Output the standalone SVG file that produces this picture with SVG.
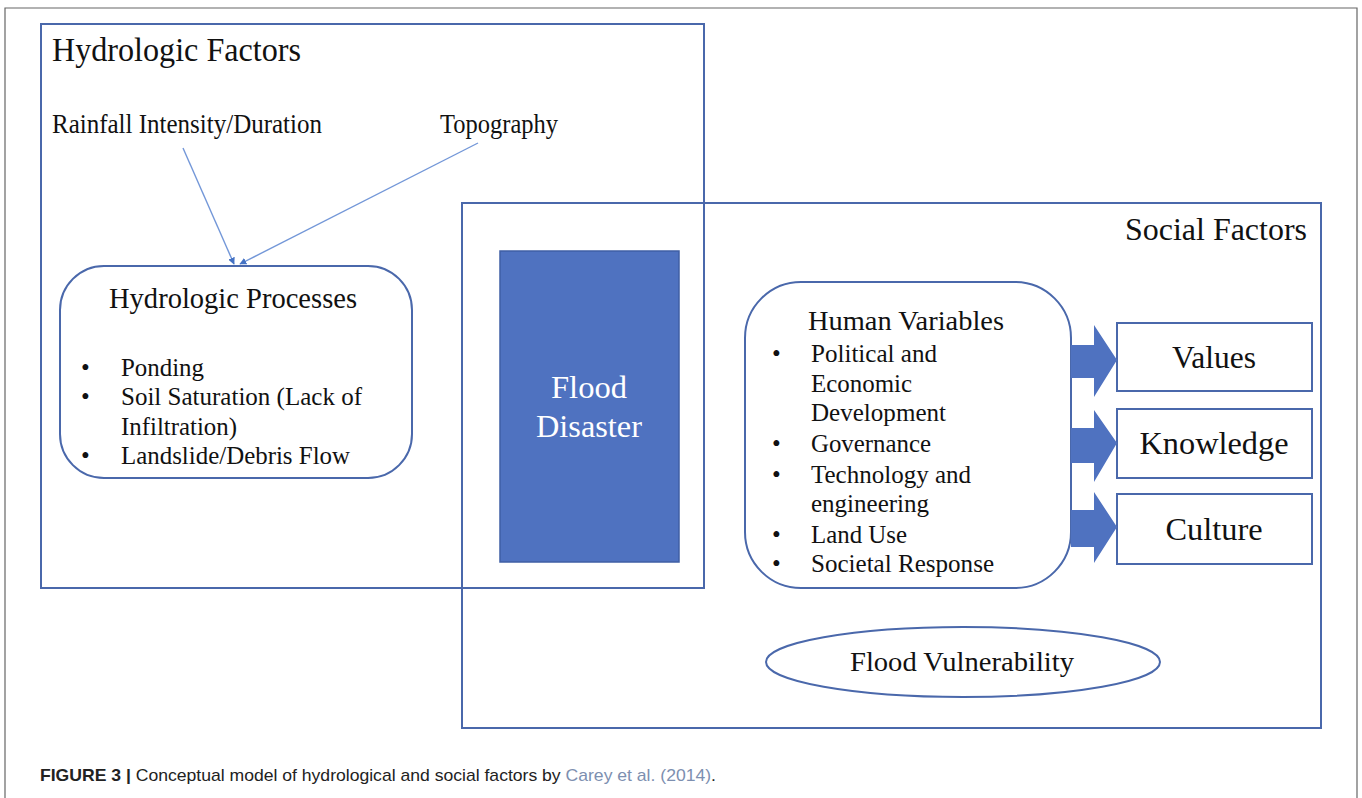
<svg xmlns="http://www.w3.org/2000/svg" width="1362" height="798" viewBox="0 0 1362 798">
<style>
.frame{fill:none;stroke:#666;stroke-width:1.2}
.box{fill:none;stroke:#4a68ab;stroke-width:2}
.wbox{fill:#fff;stroke:#4a68ab;stroke-width:2}
.t{font-family:"Liberation Serif","Times New Roman",serif;fill:#111}
.cap{font-family:"Liberation Sans",Arial,sans-serif;font-size:17px;fill:#222}
.conn{stroke:#7397d8;stroke-width:1.4;fill:none}
.blk{fill:#4f72c0}
</style>
<defs>
<marker id="ah" viewBox="0 0 10 10" refX="9" refY="5" markerWidth="7" markerHeight="7" markerUnits="userSpaceOnUse" orient="auto">
<path d="M0,0 L10,5 L0,10 z" fill="#4472c4"/>
</marker>
</defs>
<rect x="0" y="0" width="1362" height="798" fill="#fff"/>
<path class="frame" d="M5,800 V8 H1357 V800"/>

<g id="hydrologic-factors">
<rect class="box" x="41" y="24" width="663" height="564"/>
<text class="t" x="52" y="61" font-size="33" textLength="249" lengthAdjust="spacingAndGlyphs">Hydrologic Factors</text>
</g>

<g id="social-factors">
<rect class="box" x="462" y="203" width="859" height="525" stroke-width="1.6"/>
<text class="t" x="1125" y="240" font-size="31" textLength="182" lengthAdjust="spacingAndGlyphs">Social Factors</text>
</g>

<g id="rainfall">
<text class="t" x="52" y="133" font-size="27" textLength="270" lengthAdjust="spacingAndGlyphs">Rainfall Intensity/Duration</text>
</g>
<g id="topography">
<text class="t" x="440" y="133" font-size="27" textLength="118" lengthAdjust="spacingAndGlyphs">Topography</text>
</g>

<g id="hydrologic-processes">
<rect class="wbox" x="60" y="266" width="352" height="212" rx="44" ry="44"/>
<text class="t" x="109" y="308" font-size="29" textLength="248" lengthAdjust="spacingAndGlyphs">Hydrologic Processes</text>
<g class="t" font-size="25">
<text x="81" y="376">•</text>
<text x="121" y="376" textLength="83" lengthAdjust="spacingAndGlyphs">Ponding</text>
<text x="81" y="405">•</text>
<text x="121" y="405" textLength="241" lengthAdjust="spacingAndGlyphs">Soil Saturation (Lack of</text>
<text x="121" y="435" textLength="116" lengthAdjust="spacingAndGlyphs">Infiltration)</text>
<text x="81" y="464">•</text>
<text x="121" y="464" textLength="229" lengthAdjust="spacingAndGlyphs">Landslide/Debris Flow</text>
</g>
</g>

<g id="flood-disaster">
<rect class="blk" x="500" y="251" width="179" height="311" stroke="#3f5fa5" stroke-width="1.5"/>
<text class="t" x="589" y="398" font-size="31" style="fill:#fff" text-anchor="middle" textLength="76" lengthAdjust="spacingAndGlyphs">Flood</text>
<text class="t" x="589" y="437" font-size="31" style="fill:#fff" text-anchor="middle" textLength="106" lengthAdjust="spacingAndGlyphs">Disaster</text>
</g>

<g id="human-variables">
<rect class="wbox" x="745" y="282" width="326" height="306" rx="56" ry="56"/>
<text class="t" x="808" y="330" font-size="27" textLength="196" lengthAdjust="spacingAndGlyphs">Human Variables</text>
<g class="t" font-size="25">
<text x="772" y="362">•</text>
<text x="811" y="362" textLength="126" lengthAdjust="spacingAndGlyphs">Political and</text>
<text x="811" y="392" textLength="101" lengthAdjust="spacingAndGlyphs">Economic</text>
<text x="811" y="421" textLength="135" lengthAdjust="spacingAndGlyphs">Development</text>
<text x="772" y="452">•</text>
<text x="811" y="452" textLength="120" lengthAdjust="spacingAndGlyphs">Governance</text>
<text x="772" y="483">•</text>
<text x="811" y="483" textLength="160" lengthAdjust="spacingAndGlyphs">Technology and</text>
<text x="811" y="512" textLength="118" lengthAdjust="spacingAndGlyphs">engineering</text>
<text x="772" y="543">•</text>
<text x="811" y="543" textLength="96" lengthAdjust="spacingAndGlyphs">Land Use</text>
<text x="772" y="572">•</text>
<text x="811" y="572" textLength="183" lengthAdjust="spacingAndGlyphs">Societal Response</text>
</g>
</g>

<g id="values">
<rect class="wbox" x="1117" y="323" width="195" height="68"/>
<text class="t" x="1214" y="368" font-size="32" text-anchor="middle" textLength="84" lengthAdjust="spacingAndGlyphs">Values</text>
</g>
<g id="knowledge">
<rect class="wbox" x="1117" y="409" width="195" height="69"/>
<text class="t" x="1214" y="454" font-size="32" text-anchor="middle" textLength="149" lengthAdjust="spacingAndGlyphs">Knowledge</text>
</g>
<g id="culture">
<rect class="wbox" x="1117" y="494" width="195" height="70"/>
<text class="t" x="1214" y="540" font-size="32" text-anchor="middle" textLength="97" lengthAdjust="spacingAndGlyphs">Culture</text>
</g>

<g id="flood-vulnerability">
<ellipse cx="963" cy="662" rx="197" ry="35" fill="#fff" stroke="#4a68ab" stroke-width="2"/>
<text class="t" x="962" y="671" font-size="27" text-anchor="middle" textLength="224" lengthAdjust="spacingAndGlyphs">Flood Vulnerability</text>
</g>

<g id="connectors">
<line class="conn" x1="183" y1="148" x2="234" y2="264" marker-end="url(#ah)"/>
<line class="conn" x1="478" y1="143" x2="240" y2="264" marker-end="url(#ah)"/>
<path class="blk" d="M1071,345 H1094 V325 L1117,360 L1094,397 V378 H1071 z"/>
<path class="blk" d="M1071,428 H1094 V410 L1117,443 L1094,482 V463 H1071 z"/>
<path class="blk" d="M1071,510 H1094 V492 L1117,527 L1094,563 V547 H1071 z"/>
</g>

<g id="caption">
<text class="cap" x="40" y="781" textLength="676" lengthAdjust="spacingAndGlyphs"><tspan font-weight="bold">FIGURE 3 |</tspan> Conceptual model of hydrological and social factors by <tspan style="fill:#7d8fb0">Carey et al. (2014)</tspan>.</text>
</g>
</svg>
